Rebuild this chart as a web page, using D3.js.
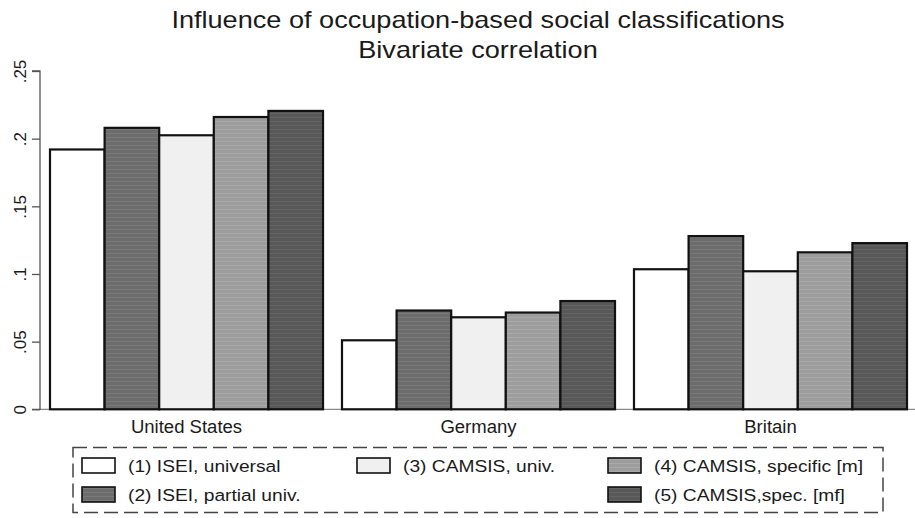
<!DOCTYPE html>
<html><head><meta charset="utf-8">
<script src="https://cdn.jsdelivr.net/npm/d3@7"></script>
<style>body{margin:0;background:#fff}svg{display:block}text{font-family:"Liberation Sans",Arial,sans-serif;fill:#1a1a1a}</style>
</head><body><svg id="c" width="915" height="518"></svg>
<script>
const countries = ["United States", "Germany", "Britain"];
const seriesNames = ["(1) ISEI, universal", "(2) ISEI, partial univ.", "(3) CAMSIS, univ.", "(4) CAMSIS, specific [m]", "(5) CAMSIS,spec. [mf]"];
const s1 = [0.192, 0.051, 0.1035];
const s2 = [0.208, 0.073, 0.128];
const s3 = [0.2025, 0.068, 0.102];
const s4 = [0.216, 0.0715, 0.116];
const s5 = [0.2205, 0.080, 0.1228];
const yTicks = [0, 0.05, 0.1, 0.15, 0.2, 0.25];
const yTickLabels = ["0", ".05", ".1", ".15", ".2", ".25"];
const titleLines = ["Influence of occupation-based social classifications", "Bivariate correlation"];

const series = [s1, s2, s3, s4, s5];
const fills = ["#ffffff", "#6c6c6c", "#f0f0f0", "#9d9d9d", "#585858"];
const stripe = [null, "#7a7a7a", null, "#a9a9a9", "#646464"];

const svg = d3.select("#c");
const defs = svg.append("defs");
fills.forEach((f, i) => {
  const p = defs.append("pattern").attr("id", "p" + i).attr("patternUnits", "userSpaceOnUse")
    .attr("width", 8).attr("height", 4);
  p.append("rect").attr("width", 8).attr("height", 4).attr("fill", f);
  if (stripe[i]) p.append("rect").attr("y", 1).attr("width", 8).attr("height", 1).attr("fill", stripe[i]);
});

const y = d3.scaleLinear().domain([0, 0.25]).range([409.3, 71]);
const x0 = d3.scaleBand().domain(countries).range([50, 907]).paddingInner(0.065).paddingOuter(0);
const x1 = d3.scaleBand().domain(d3.range(5)).range([0, x0.bandwidth()]);

// title
svg.append("g").selectAll("text").data(titleLines).join("text")
  .attr("transform", (d, i) => `translate(478,${27.5 + i * 30}) scale(1.13,1)`)
  .attr("text-anchor", "middle").style("font-size", "24px").text(d => d);

// baseline
svg.append("line").attr("x1", 40).attr("x2", 915).attr("y1", y(0)).attr("y2", y(0))
  .attr("stroke", "#8a8a8a").attr("stroke-width", 1.2);

// bars
const data = [];
countries.forEach((c, ci) => series.forEach((s, si) => data.push({c, si, v: s[ci]})));
svg.append("g").selectAll("rect").data(data).join("rect")
  .attr("x", d => x0(d.c) + x1(d.si))
  .attr("y", d => y(d.v))
  .attr("width", x1.bandwidth())
  .attr("height", d => y(0) - y(d.v))
  .attr("fill", d => `url(#p${d.si})`)
  .attr("stroke", "#111").attr("stroke-width", 2.2);

// y axis
const yAxis = svg.append("g").attr("transform", "translate(40,0)")
  .call(d3.axisLeft(y).tickValues(yTicks).tickSize(8).tickFormat((d, i) => yTickLabels[i]));
yAxis.select(".domain").attr("stroke", "#555").attr("stroke-width", 1.3).attr("d", `M-8,${y(0.25)}H0V${y(0)}H-8`);
yAxis.selectAll(".tick line").attr("stroke", "#555").attr("stroke-width", 1.3);
yAxis.selectAll(".tick text")
  .attr("x", null).attr("dy", null)
  .attr("transform", "translate(-14,0) rotate(-90)")
  .attr("text-anchor", "middle").attr("y", 0)
  .style("font-size", "17px").style("fill", "#1a1a1a").style("font-family", "Liberation Sans, Arial, sans-serif");

// x labels
svg.append("g").selectAll("text").data(countries).join("text")
  .attr("transform", d => `translate(${x0(d) + x0.bandwidth() / 2},433) scale(1.06,1)`)
  .attr("text-anchor", "middle").style("font-size", "17.5px").text(d => d);

// legend
svg.append("rect").attr("x", 73).attr("y", 447.5).attr("width", 810).attr("height", 65)
  .attr("fill", "none").attr("stroke", "#444").attr("stroke-width", 1.5).attr("stroke-dasharray", "14,6");
const legPos = [[82, 458], [82, 487], [357, 458], [608, 458], [608, 487]];
const leg = svg.append("g").selectAll("g").data(seriesNames).join("g")
  .attr("transform", (d, i) => `translate(${legPos[i][0]},${legPos[i][1]})`);
leg.append("rect").attr("width", 33).attr("height", 15)
  .attr("fill", (d, i) => `url(#p${i})`).attr("stroke", "#111").attr("stroke-width", 1.6);
leg.append("text").attr("transform", "translate(46,14) scale(1.13,1)")
  .style("font-size", "17px").text(d => d);
</script></body></html>
